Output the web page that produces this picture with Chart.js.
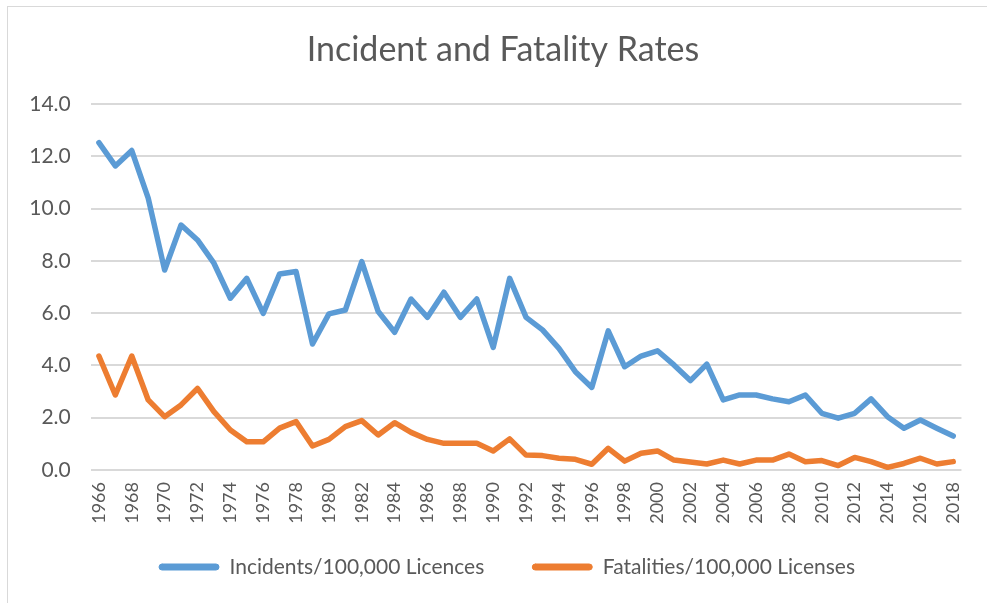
<!DOCTYPE html>
<html>
<head>
<meta charset="utf-8">
<script src="https://cdn.jsdelivr.net/npm/chart.js@4/dist/chart.umd.min.js"></script>
<style>
  html, body { margin: 0; padding: 0; background: #ffffff; overflow: hidden; }
  #frame { position: absolute; left: 7px; top: 6px; width: 1000px; height: 620px; border: 1px solid #d9d9d9; box-sizing: border-box; }
  #c { position: absolute; left: 0; top: 0; }
</style>
</head>
<body>
<div id="frame"></div>
<canvas id="c" width="987" height="603"></canvas>
<script>
const years = [];
for (let y = 1966; y <= 2018; y++) years.push(String(y));

const incidents = [12.52, 11.63, 12.22, 10.40, 7.65, 9.37, 8.80, 7.91, 6.57, 7.33,
  5.99, 7.50, 7.59, 4.82, 5.97, 6.12, 7.97, 6.06, 5.27, 6.54,
  5.84, 6.80, 5.84, 6.54, 4.69, 7.33, 5.84, 5.36, 4.65, 3.76,
  3.16, 5.32, 3.95, 4.36, 4.56, 4.02, 3.42, 4.05, 2.68, 2.87,
  2.87, 2.72, 2.61, 2.87, 2.17, 1.98, 2.17, 2.72, 2.04, 1.60,
  1.91, 1.60, 1.30];

const fatalities = [4.36, 2.87, 4.36, 2.68, 2.04, 2.49, 3.12, 2.23, 1.53, 1.08,
  1.08, 1.60, 1.85, 0.92, 1.17, 1.66, 1.89, 1.34, 1.81, 1.44,
  1.17, 1.02, 1.02, 1.02, 0.73, 1.19, 0.57, 0.55, 0.45, 0.41,
  0.22, 0.83, 0.34, 0.64, 0.73, 0.38, 0.31, 0.23, 0.38, 0.23,
  0.38, 0.38, 0.61, 0.32, 0.36, 0.17, 0.48, 0.32, 0.10, 0.25,
  0.45, 0.23, 0.32];

const seriesNames = ['Incidents/100,000 Licences', 'Fatalities/100,000 Licenses'];
const titleText = 'Incident and Fatality Rates';

const textColor = '#595959';
const gridColor = '#d9d9d9';
const blue = '#5b9bd5';
const orange = '#ed7d31';

// place title and legend where the reference has them
const placeBlocks = {
  id: 'placeBlocks',
  afterLayout(chart) {
    const t = chart.titleBlock;
    if (t) { const dx = 503 - (t.left + t.right) / 2; t.left += dx; t.right += dx; }
    const l = chart.legend;
    if (l) {
      const dx = 507 - (l.left + l.right) / 2; l.left += dx; l.right += dx;
      l.top = 508.5; l.bottom = 603; l.height = l.bottom - l.top;
    }
  }
};

new Chart(document.getElementById('c'), {
  type: 'line',
  data: {
    labels: years,
    datasets: [
      { label: seriesNames[0], data: incidents, borderColor: blue, backgroundColor: blue,
        borderWidth: 5.5, pointRadius: 0, tension: 0, borderCapStyle: 'round', borderJoinStyle: 'round' },
      { label: seriesNames[1], data: fatalities, borderColor: orange, backgroundColor: orange,
        borderWidth: 5.5, pointRadius: 0, tension: 0, borderCapStyle: 'round', borderJoinStyle: 'round' }
    ]
  },
  plugins: [placeBlocks],
  options: {
    responsive: false,
    animation: false,
    layout: { padding: { left: 0, right: 17.3, top: 0, bottom: 36 } },
    plugins: {
      tooltip: { enabled: false },
      title: {
        display: true,
        text: titleText,
        color: textColor,
        font: { family: 'Lato', size: 34, weight: 'normal' },
        padding: { top: 29.5, bottom: 33.7 }
      },
      legend: {
        position: 'bottom',
        maxHeight: 41,
        labels: {
          color: textColor,
          font: { family: 'Lato', size: 21 },
          boxWidth: 60,
          boxHeight: 6,
          padding: 48,
          useBorderRadius: true,
          borderRadius: 3,
          generateLabels: (chart) => {
            const items = Chart.defaults.plugins.legend.labels.generateLabels(chart);
            items.forEach(it => { it.lineWidth = 1; it.strokeStyle = it.fillStyle; });
            return items;
          }
        }
      }
    },
    scales: {
      x: {
        offset: true,
        grid: { display: false, drawTicks: false },
        border: { display: false },
        afterFit: (s) => { s.height = 56; },
        ticks: {
          color: textColor,
          font: { family: 'Lato', size: 18 },
          autoSkip: false,
          minRotation: 90,
          maxRotation: 90,
          padding: 12,
          callback: function(v, i) { return i % 2 === 0 ? years[i] : ''; }
        }
      },
      y: {
        min: 0,
        max: 14,
        afterFit: (s) => { s.width = 90.7; },
        grid: { color: gridColor, lineWidth: 2, drawTicks: false },
        border: { display: false },
        ticks: {
          stepSize: 2,
          color: textColor,
          font: { family: 'Lato', size: 21 },
          padding: 20,
          callback: (v) => Number(v).toFixed(1)
        }
      }
    }
  }
});
</script>
</body>
</html>
